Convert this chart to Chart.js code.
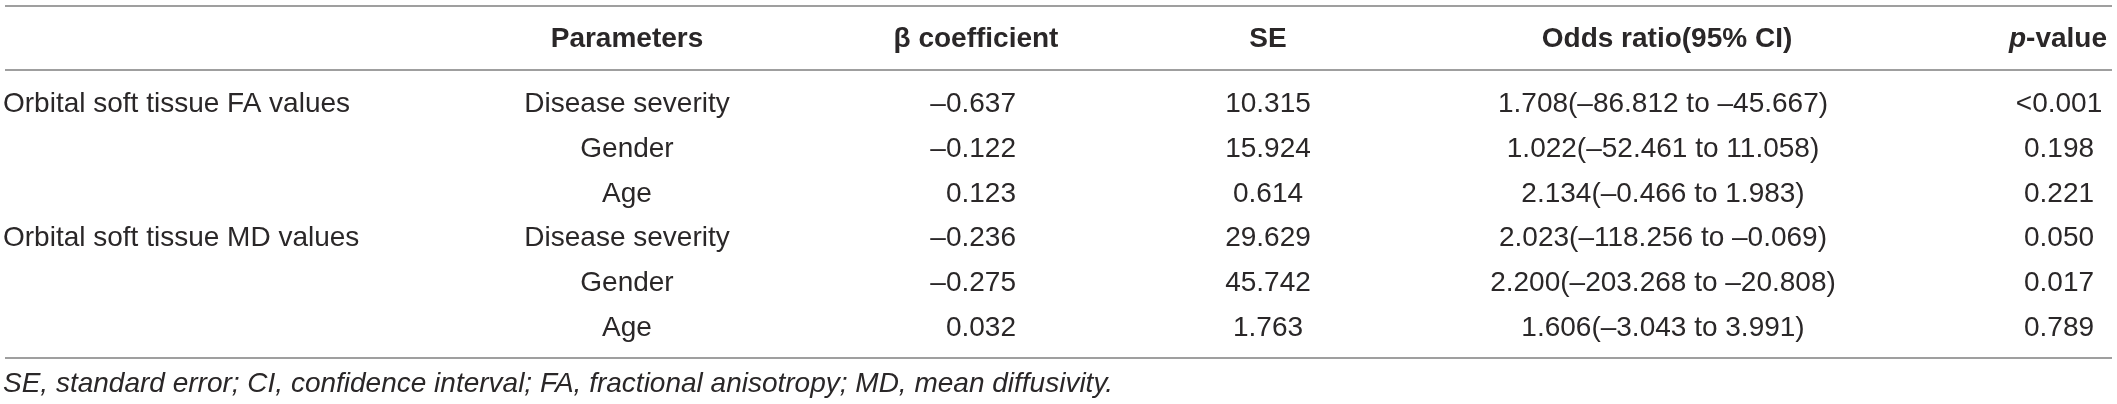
<!DOCTYPE html>
<html>
<head>
<meta charset="utf-8">
<script src="https://cdn.jsdelivr.net/npm/chart.js@4.4.1/dist/chart.umd.min.js"></script>
<style>
  html, body { margin: 0; padding: 0; background: #fff; }
  #wrap { width: 2117px; height: 404px; position: relative; }
</style>
</head>
<body>
<div id="wrap"><canvas id="regressionTable"></canvas></div>
<script>
// table content
const headers = ['Parameters', 'β coefficient', 'SE', 'Odds ratio(95% CI)', 'p-value'];
const groups = ['Orbital soft tissue FA values', '', '', 'Orbital soft tissue MD values', '', ''];
const parameters = ['Disease severity', 'Gender', 'Age', 'Disease severity', 'Gender', 'Age'];
const betaCoef = [-0.637, -0.122, 0.123, -0.236, -0.275, 0.032];
const stdError = [10.315, 15.924, 0.614, 29.629, 45.742, 1.763];
const oddsRatio = [1.708, 1.022, 2.134, 2.023, 2.200, 1.606];
const ciLow = [-86.812, -52.461, -0.466, -118.256, -203.268, -3.043];
const ciHigh = [-45.667, 11.058, 1.983, -0.069, -20.808, 3.991];
const pValues = ['<0.001', '0.198', '0.221', '0.050', '0.017', '0.789'];
const footnote = 'SE, standard error; CI, confidence interval; FA, fractional anisotropy; MD, mean diffusivity.';

// layout (pixel units on the hidden linear scales)
const W = 2117, H = 404;
const rowBase = 112, rowStep = 44.8, headBase = 47, footBase = 392;
const ruleY = [6, 70, 358];
const ruleX = [5, 2112];
const FONT = '"Liberation Sans", Arial, sans-serif';
const ink = '#2a2728';

function num(v) {
    return v.toFixed(3).replace('-', '\u2013');
}

const columns = [
    { x: 3,    align: 'left',   texts: groups },
    { x: 627,  align: 'center', texts: parameters },
    { x: 1016, align: 'right',  texts: betaCoef.map(num) },
    { x: 1268, align: 'center', texts: stdError.map(num) },
    { x: 1663, align: 'center', texts: oddsRatio.map((o, i) => num(o) + '(' + num(ciLow[i]) + ' to ' + num(ciHigh[i]) + ')') },
    { x: 2059, align: 'center', texts: pValues }
];
const headerX = [627, 976, 1268, 1667, 2058];

const tablePlugin = {
    id: 'tableText',
    afterDatasetsDraw(chart) {
        const ctx = chart.ctx;
        const xs = chart.scales.x, ys = chart.scales.y;
        ctx.save();

        // horizontal rules
        ctx.strokeStyle = '#9f9f9f';
        ctx.lineWidth = 2;
        ruleY.forEach(y => {
            const py = Math.round(ys.getPixelForValue(y));
            ctx.beginPath();
            ctx.moveTo(xs.getPixelForValue(ruleX[0]), py);
            ctx.lineTo(xs.getPixelForValue(ruleX[1]), py);
            ctx.stroke();
        });

        ctx.fillStyle = ink;
        ctx.textBaseline = 'alphabetic';

        // header row
        ctx.font = 'bold 28px ' + FONT;
        headers.forEach((h, i) => {
            const cx = xs.getPixelForValue(headerX[i]);
            const cy = ys.getPixelForValue(headBase);
            if (h === 'p-value') {
                const rest = '-value';
                ctx.font = 'italic bold 28px ' + FONT;
                const wp = ctx.measureText('p').width;
                ctx.font = 'bold 28px ' + FONT;
                const wr = ctx.measureText(rest).width;
                const left = cx - (wp + wr) / 2;
                ctx.textAlign = 'left';
                ctx.font = 'italic bold 28px ' + FONT;
                ctx.fillText('p', left, cy);
                ctx.font = 'bold 28px ' + FONT;
                ctx.fillText(rest, left + wp, cy);
            } else {
                ctx.textAlign = 'center';
                ctx.fillText(h, cx, cy);
            }
        });

        // body cells, placed at each dataset point
        ctx.font = '28px ' + FONT;
        chart.data.datasets.forEach((ds, di) => {
            const meta = chart.getDatasetMeta(di);
            ctx.textAlign = ds.align;
            meta.data.forEach((pt, i) => {
                const t = ds.cellText[i];
                if (t) ctx.fillText(t, pt.x, pt.y);
            });
        });

        // footnote
        ctx.font = 'italic 28px ' + FONT;
        ctx.textAlign = 'left';
        ctx.fillText(footnote, xs.getPixelForValue(3), ys.getPixelForValue(footBase));

        ctx.restore();
    }
};

new Chart(document.getElementById('regressionTable').getContext('2d'), {
    type: 'scatter',
    data: {
        datasets: columns.map(col => ({
            data: col.texts.map((_, i) => ({ x: col.x, y: rowBase + i * rowStep })),
            cellText: col.texts,
            align: col.align,
            pointRadius: 0,
            pointHoverRadius: 0
        }))
    },
    options: {
        responsive: true,
        maintainAspectRatio: false,
        animation: false,
        events: [],
        layout: { padding: 0 },
        plugins: { legend: { display: false }, tooltip: { enabled: false } },
        scales: {
            x: { type: 'linear', min: 0, max: W, display: false },
            y: { type: 'linear', min: 0, max: H, reverse: true, display: false }
        }
    },
    plugins: [tablePlugin]
});
</script>
</body>
</html>
